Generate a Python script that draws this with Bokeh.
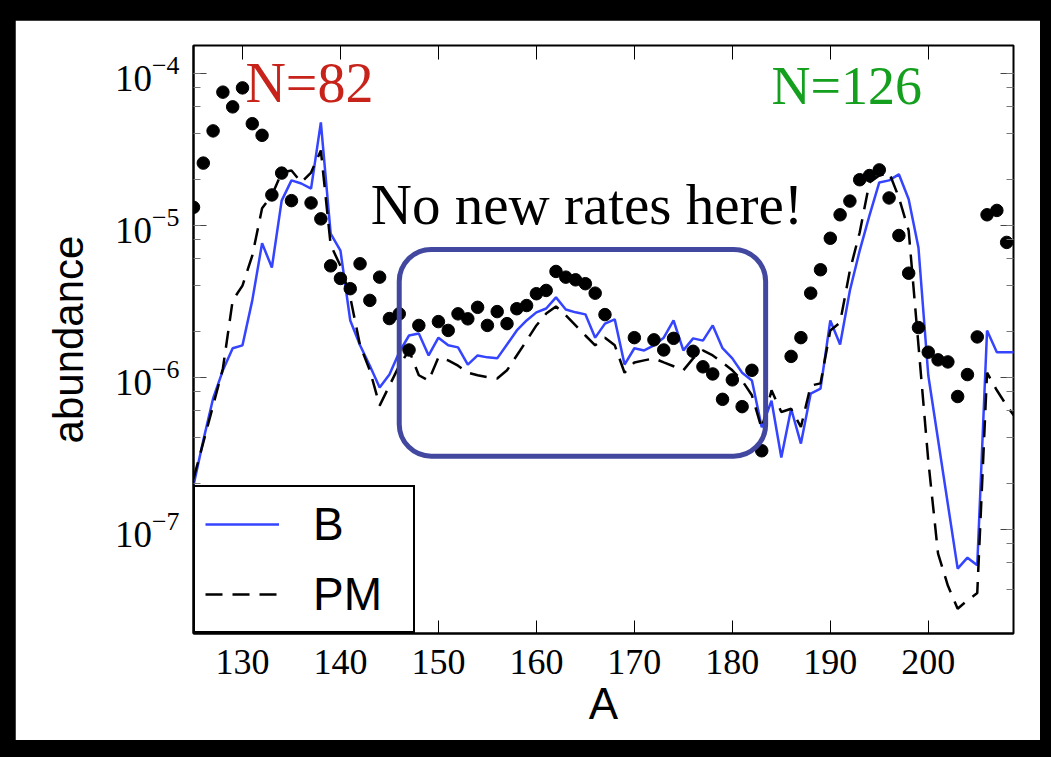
from bokeh.plotting import figure
from bokeh.models import (LinearAxis, LogAxis, SingleIntervalTicker, LogTicker,
                          Range1d, BoxAnnotation, Label, Legend, LegendItem,
                          GlobalInlineStyleSheet)
from bokeh.embed import file_html
from bokeh.resources import INLINE

# Solar r-process abundances (points)
solar_A = [125, 126, 127, 128, 129, 130, 131, 132, 133, 134, 135, 137, 138, 139,
           140, 141, 142, 143, 144, 145, 146, 147, 148, 150, 151, 152, 153, 154,
           155, 156, 157, 158, 159, 160, 161, 162, 163, 164, 165, 166, 167, 170,
           172, 173, 174, 176, 177, 178, 179, 180, 181, 182, 183, 186, 187, 188,
           189, 190, 191, 192, 193, 194, 195, 196, 197, 198, 199, 200, 201, 202,
           203, 204, 205, 206, 207, 208]
solar_Y = [1.31e-5, 2.56e-5, 4.17e-5, 7.5e-5, 6.0e-5, 8.0e-5, 4.65e-5, 3.9e-5,
           1.58e-5, 2.2e-5, 1.45e-5, 1.40e-5, 1.10e-5, 5.4e-6, 4.46e-6, 3.82e-6,
           5.57e-6, 3.2e-6, 4.55e-6, 2.43e-6, 2.61e-6, 1.51e-6, 2.19e-6, 2.32e-6,
           2.03e-6, 2.61e-6, 2.42e-6, 2.88e-6, 2.19e-6, 2.70e-6, 2.25e-6, 2.82e-6,
           2.96e-6, 3.54e-6, 3.72e-6, 4.96e-6, 4.55e-6, 4.37e-6, 4.12e-6, 3.57e-6,
           2.58e-6, 1.82e-6, 1.76e-6, 1.51e-6, 1.80e-6, 1.48e-6, 1.17e-6, 1.05e-6,
           7.15e-7, 9.6e-7, 6.4e-7, 1.11e-6, 3.28e-7, 1.37e-6, 1.82e-6, 3.57e-6,
           5.09e-6, 8.2e-6, 1.17e-5, 1.44e-5, 1.99e-5, 2.12e-5, 2.31e-5, 1.51e-5,
           8.55e-6, 4.83e-6, 2.12e-6, 1.46e-6, 1.30e-6, 1.26e-6, 7.46e-7, 1.04e-6,
           1.84e-6, 1.17e-5, 1.25e-5, 7.7e-6]

# Model "B"
b_A = list(range(125, 201)) + [203, 204, 205, 206, 207, 208, 209]
b_Y = [1.94e-7, 3.84e-7, 7.25e-7, 1.11e-6, 1.55e-6, 1.62e-6, 3.2e-6, 7.6e-6,
       5.27e-6, 1.45e-5, 1.97e-5, 1.88e-5, 1.74e-5, 4.74e-5, 8.8e-6, 6.8e-6,
       2.36e-6, 1.62e-6, 1.19e-6, 8.55e-7, 1.04e-6, 1.46e-6, 1.88e-6, 1.94e-6,
       1.39e-6, 1.82e-6, 1.62e-6, 1.57e-6, 1.21e-6, 1.39e-6, 1.35e-6, 1.33e-6,
       1.64e-6, 2.03e-6, 2.36e-6, 2.67e-6, 2.83e-6, 3.35e-6, 2.79e-6, 2.67e-6,
       2.59e-6, 1.82e-6, 2.25e-6, 2.40e-6, 1.21e-6, 1.55e-6, 1.50e-6, 1.62e-6,
       1.82e-6, 2.36e-6, 1.50e-6, 1.80e-6, 1.74e-6, 2.19e-6, 1.55e-6, 1.33e-6,
       1.07e-6, 9.5e-7, 4.68e-7, 7.0e-7, 2.96e-7, 6.2e-7, 3.66e-7, 7.8e-7,
       8.4e-7, 2.36e-6, 1.64e-6, 3.72e-6, 6.8e-6, 1.16e-5, 1.91e-5, 1.97e-5,
       2.16e-5, 1.48e-5, 7.1e-6, 1.03e-6,
       5.5e-8, 6.5e-8, 5.8e-8, 2.03e-6, 1.46e-6, 1.46e-6, 1.46e-6]

# Model "PM"
pm_A = list(range(125, 210))
pm_Y = [2.15e-7, 3.72e-7, 6.5e-7, 1.14e-6, 3.2e-6, 4.0e-6, 6.3e-6, 1.29e-5,
        1.57e-5, 2.22e-5, 2.29e-5, 1.91e-5, 2.22e-5, 3.1e-5, 7.4e-6, 5.4e-6,
        3.35e-6, 1.62e-6, 1.11e-6, 6.5e-7, 8.8e-7, 1.19e-6, 1.50e-6, 1.03e-6,
        9.5e-7, 1.35e-6, 1.29e-6, 1.19e-6, 1.07e-6, 1.03e-6, 1.0e-6, 9.8e-7,
        1.11e-6, 1.39e-6, 1.74e-6, 2.19e-6, 2.62e-6, 2.92e-6, 2.55e-6, 2.19e-6,
        1.88e-6, 1.62e-6, 1.82e-6, 1.62e-6, 1.07e-6, 1.25e-6, 1.29e-6, 1.33e-6,
        1.25e-6, 1.18e-6, 1.11e-6, 1.33e-6, 1.50e-6, 1.39e-6, 1.25e-6, 1.11e-6,
        9.5e-7, 7.6e-7, 4.6e-7, 8.2e-7, 5.9e-7, 6.2e-7, 4.7e-7, 8.8e-7,
        9.1e-7, 2.03e-6, 2.29e-6, 5.04e-6, 8.95e-6, 1.91e-5, 2.12e-5, 2.22e-5,
        1.52e-5, 9.2e-6, 1.62e-6, 2.83e-7, 6.9e-8, 4.26e-8, 3.0e-8, 3.4e-8,
        3.8e-8, 1.07e-6, 8.2e-7, 6.5e-7, 5.3e-7]

x_ticks_interval = 10

p = figure(width=1025, height=720, output_backend="svg", toolbar_location=None,
           y_axis_type="log",
           x_range=Range1d(125.0, 208.7), y_range=Range1d(2.06e-8, 1.52e-4),
           min_border_left=178, min_border_right=27,
           min_border_top=25, min_border_bottom=107)
p.margin = (20, 11, 17, 15)
p.stylesheets = [GlobalInlineStyleSheet(
    css="html, body { background-color: #000; margin: 0; padding: 0; }")]
p.background_fill_color = "white"
p.border_fill_color = "white"
p.outline_line_color = "black"
p.outline_line_width = 2
p.outline_line_alpha = 1.0
p.xgrid.visible = False
p.ygrid.visible = False

# bottom axis
xa = p.xaxis[0]
xa.ticker = SingleIntervalTicker(interval=x_ticks_interval)
xa.axis_label = "A"
xa.axis_label_text_font = "Liberation Sans"
xa.axis_label_text_font_style = "normal"
xa.axis_label_text_font_size = "44px"
xa.axis_label_text_color = "black"
xa.axis_label_standoff = 2
xa.major_label_text_font = "Liberation Serif"
xa.major_label_text_font_size = "36px"
xa.major_label_text_color = "black"
xa.major_label_standoff = 12
xa.major_tick_in = 13
xa.major_tick_out = 0
xa.major_tick_line_color = "black"
xa.minor_tick_line_color = None
xa.axis_line_width = 2
xa.axis_line_color = "black"

# left axis
ya = p.yaxis[0]
ya.ticker = LogTicker()
ya.axis_label = "abundance"
ya.axis_label_text_font = "Liberation Sans"
ya.axis_label_text_font_style = "normal"
ya.axis_label_text_font_size = "42px"
ya.axis_label_text_color = "black"
ya.axis_label_standoff = 20
ya.major_label_text_font = "Liberation Serif"
ya.major_label_text_font_size = "37px"
ya.major_label_text_color = "black"
ya.major_label_standoff = 14
ya.major_tick_in = 13
ya.major_tick_out = 0
ya.minor_tick_in = 7
ya.minor_tick_out = 0
ya.major_tick_line_color = "#444444"
ya.minor_tick_line_color = "#777777"
ya.axis_line_width = 2
ya.axis_line_color = "black"

# mirrored ticks on top and right (labels hidden)
top = LinearAxis(ticker=SingleIntervalTicker(interval=x_ticks_interval),
                 major_label_text_font_size="2px", major_label_text_alpha=0,
                 major_label_standoff=0,
                 major_tick_in=14, major_tick_out=0, minor_tick_line_color=None,
                 major_tick_line_color="black", axis_line_color=None)
p.add_layout(top, "above")
right = LogAxis(ticker=LogTicker(), major_label_text_font_size="2px",
                major_label_text_alpha=0,
                major_label_standoff=0, major_tick_in=13, major_tick_out=0,
                minor_tick_in=7, minor_tick_out=0, axis_line_color=None,
                major_tick_line_color="#444444", minor_tick_line_color="#777777")
p.add_layout(right, "right")

# data
r_b = p.line(b_A, b_Y, line_color="#3444ff", line_width=2.5)
r_pm = p.line(pm_A, pm_Y, line_color="black", line_width=2.5, line_dash="17 10")
p.scatter(solar_A, solar_Y, size=12.5, color="black")

legend = Legend(items=[LegendItem(label="B", renderers=[r_b]),
                       LegendItem(label="PM", renderers=[r_pm])],
                location="bottom_left", margin=0, padding=10, spacing=16,
                glyph_width=74, label_standoff=34, label_width=90,
                label_text_font="Liberation Sans", label_text_font_size="46px",
                label_text_color="black",
                border_line_color="black", border_line_width=2,
                border_line_alpha=1.0, background_fill_alpha=1.0)
p.add_layout(legend)

# highlighted region
region = BoxAnnotation(left=146.0, right=183.4, top=10**-5.16, bottom=10**-6.52,
                       fill_alpha=0, line_color="#4248a0", line_alpha=1.0,
                       line_width=5, border_radius=32)
p.add_layout(region)

p.add_layout(Label(x=130.3, y=10**-4.27, text="N=82", text_color="#c8231b",
                   text_font="Liberation Serif", text_font_size="56px"))
p.add_layout(Label(x=184.0, y=10**-4.28, text="N=126", text_color="#14a01e",
                   text_font="Liberation Serif", text_font_size="54px"))
p.add_layout(Label(x=143.1, y=10**-5.07, text="No new rates here!",
                   text_color="black", text_font="Liberation Serif",
                   text_font_size="57px"))

open("out.html", "w").write(file_html(p, INLINE))
